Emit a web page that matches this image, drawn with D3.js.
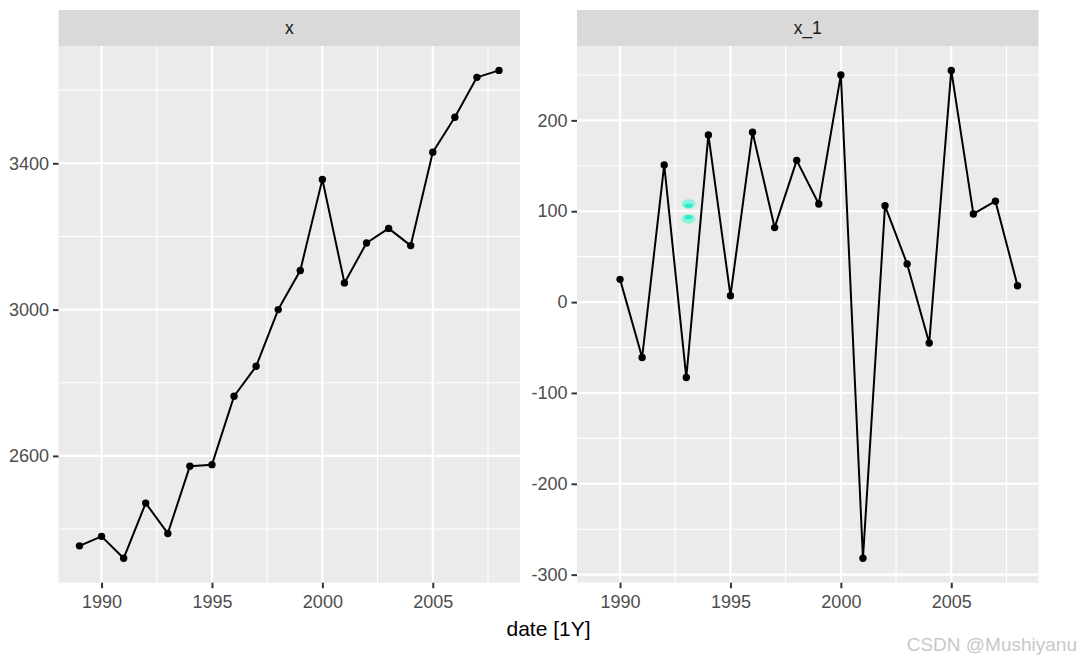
<!DOCTYPE html>
<html>
<head>
<meta charset="utf-8">
<script src="https://cdn.jsdelivr.net/npm/d3@7"></script>
<style>
  html, body { margin: 0; padding: 0; background: #ffffff; }
  svg { display: block; font-family: "Liberation Sans", Arial, sans-serif; }
</style>
</head>
<body>
<svg id="chart" width="1081" height="661"></svg>
<script>
// ---- data ----
const years = [1989,1990,1991,1992,1993,1994,1995,1996,1997,1998,1999,2000,2001,2002,2003,2004,2005,2006,2007,2008];
const xValues = [2354,2380,2320,2471,2388,2572,2576,2763,2845,3000,3107,3356,3073,3182,3222,3175,3430,3526,3635,3654];
const x1Values = [null,25,-61,151,-83,184,7,187,82,156,108,250,-282,106,42,-45,255,97,111,18];
const panelNames = ["x", "x_1"];
const xTickValues = [1990, 1995, 2000, 2005];
const xMinorValues = [1992.5, 1997.5, 2002.5, 2007.5];
const leftYTicks = [2600, 3000, 3400];
const leftYMinor = [2400, 2800, 3200, 3600];
const rightYTicks = [-300, -200, -100, 0, 100, 200];
const rightYMinor = [-250, -150, -50, 50, 150, 250];
const axisTitle = "date [1Y]";
const watermark = "CSDN @Mushiyanu";
// cyan smudge seen in the reference (right panel)
const smudgeYear = [1993.1, 1993.1];
const smudgeValue = [108, 91.5];

// ---- layout ----
const svg = d3.select("#chart");
const stripTop = 10, stripH = 36, panelTop = 46, panelBottom = 582.7;
const panels = [
  { name: panelNames[0], left: 58.5, right: 520, values: xValues, ticks: leftYTicks, minor: leftYMinor },
  { name: panelNames[1], left: 577, right: 1038.5, values: x1Values, ticks: rightYTicks, minor: rightYMinor }
];
const fmt = v => String(Math.round(v)); // hyphen-minus, like ggplot

const xExt = d3.extent(years);
const xPad = (xExt[1] - xExt[0]) * 0.05;

panels.forEach((p, pi) => {
  const data = years.map((yr, i) => ({ yr, v: p.values[i] })).filter(d => d.v !== null);
  const ext = d3.extent(data, d => d.v);
  const pad = (ext[1] - ext[0]) * 0.05;
  const x = d3.scaleLinear().domain([xExt[0] - xPad, xExt[1] + xPad]).range([p.left, p.right]);
  const y = d3.scaleLinear().domain([ext[0] - pad, ext[1] + pad]).range([panelBottom, panelTop]);
  p.x = x; p.y = y;

  const g = svg.append("g");
  // panel background
  g.append("rect").attr("x", p.left).attr("y", panelTop)
    .attr("width", p.right - p.left).attr("height", panelBottom - panelTop).attr("fill", "#ebebeb");
  // strip
  g.append("rect").attr("x", p.left).attr("y", stripTop)
    .attr("width", p.right - p.left).attr("height", stripH).attr("fill", "#d9d9d9");
  g.append("text").attr("x", (p.left + p.right) / 2).attr("y", stripTop + stripH / 2)
    .attr("dy", "0.35em").attr("text-anchor", "middle").attr("font-size", 17.5)
    .attr("fill", "#1a1a1a").text(p.name);

  // minor grid
  g.selectAll(".hmin").data(p.minor.filter(v => v >= y.domain()[0] && v <= y.domain()[1])).enter()
    .append("line").attr("x1", p.left).attr("x2", p.right)
    .attr("y1", d => y(d)).attr("y2", d => y(d)).attr("stroke", "#ffffff").attr("stroke-width", 1.1);
  g.selectAll(".vmin").data(xMinorValues).enter()
    .append("line").attr("y1", panelTop).attr("y2", panelBottom)
    .attr("x1", d => x(d)).attr("x2", d => x(d)).attr("stroke", "#ffffff").attr("stroke-width", 1.1);
  // major grid
  g.selectAll(".hmaj").data(p.ticks).enter()
    .append("line").attr("x1", p.left).attr("x2", p.right)
    .attr("y1", d => y(d)).attr("y2", d => y(d)).attr("stroke", "#ffffff").attr("stroke-width", 2.1);
  g.selectAll(".vmaj").data(xTickValues).enter()
    .append("line").attr("y1", panelTop).attr("y2", panelBottom)
    .attr("x1", d => x(d)).attr("x2", d => x(d)).attr("stroke", "#ffffff").attr("stroke-width", 2.1);

  // axes
  const yAxis = d3.axisLeft(y).tickValues(p.ticks).tickSize(5.5).tickPadding(4).tickFormat(fmt);
  const ya = g.append("g").attr("transform", `translate(${p.left},0)`).call(yAxis);
  const xAxis = d3.axisBottom(x).tickValues(xTickValues).tickSize(5.5).tickPadding(4).tickFormat(fmt);
  const xa = g.append("g").attr("transform", `translate(0,${panelBottom})`).call(xAxis);
  [ya, xa].forEach(a => {
    a.select(".domain").remove();
    a.selectAll(".tick line").attr("stroke", "#333333").attr("stroke-width", 2);
    a.selectAll(".tick text").attr("fill", "#4d4d4d").attr("font-size", 18)
      .attr("font-family", "'Liberation Sans', Arial, sans-serif");
  });
  xa.selectAll(".tick text").attr("y", 25.6).attr("dy", 0);

  // clip
  const clipId = "clip" + pi;
  svg.append("clipPath").attr("id", clipId).append("rect")
    .attr("x", p.left).attr("y", panelTop).attr("width", p.right - p.left).attr("height", panelBottom - panelTop);
  const plot = g.append("g").attr("clip-path", `url(#${clipId})`);

  const line = d3.line().x(d => x(d.yr)).y(d => y(d.v));
  plot.append("path").datum(data).attr("d", line).attr("fill", "none")
    .attr("stroke", "#000000").attr("stroke-width", 2).attr("stroke-linejoin", "round");
  plot.selectAll("circle.pt").data(data).enter().append("circle").attr("class", "pt")
    .attr("cx", d => x(d.yr)).attr("cy", d => y(d.v)).attr("r", 3.7).attr("fill", "#000000");
});

// cyan smudge on right panel
const rp = panels[1];
const smudge = smudgeYear.map((yr, i) => ({ yr, v: smudgeValue[i], top: i === 0 }));
const sg = svg.append("g");
sg.selectAll("ellipse.outer").data(smudge).enter().append("ellipse")
  .attr("cx", d => rp.x(d.yr)).attr("cy", d => rp.y(d.v)).attr("rx", 7).attr("ry", 4.8)
  .attr("fill", "#8cf3dc");
sg.selectAll("ellipse.inner").data(smudge).enter().append("ellipse")
  .attr("cx", d => rp.x(d.yr)).attr("cy", d => rp.y(d.v) + (d.top ? 1.8 : -1.8)).attr("rx", 4).attr("ry", 2.2)
  .attr("fill", "#2eeacb");

// axis title
svg.append("text").attr("x", (panels[0].left + panels[1].right) / 2).attr("y", 629)
  .attr("dy", "0.35em").attr("text-anchor", "middle").attr("font-size", 21)
  .attr("fill", "#000000").text(axisTitle);

// watermark
svg.append("text").attr("x", 1077).attr("y", 644).attr("dy", "0.35em")
  .attr("text-anchor", "end").attr("font-size", 19).attr("fill", "#c8c8c8").text(watermark);
</script>
</body>
</html>
